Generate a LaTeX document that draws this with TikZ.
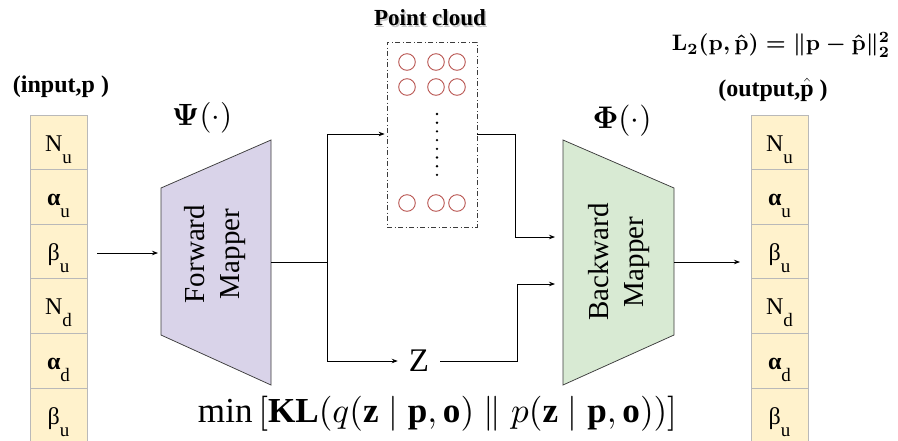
\documentclass[tikz,border=0pt]{standalone}
\usepackage{amsmath,bm}
\usepackage{fontspec}
\setmainfont{Liberation Serif}
\usetikzlibrary{arrows.meta}

\definecolor{cellfill}{RGB}{255,242,204}
\definecolor{celledge}{RGB}{185,185,185}
\definecolor{fwdfill}{RGB}{217,211,233}
\definecolor{bwdfill}{RGB}{216,234,211}
\definecolor{ptred}{RGB}{184,84,80}
\definecolor{edgegray}{RGB}{60,60,60}

\newcommand{\fsz}[2]{\fontsize{#1}{#2}\selectfont}
\newcommand{\sbx}[2]{#1\raisebox{-12pt}{\fsz{19}{19}\mdseries #2}}

\begin{document}
\begin{tikzpicture}[x=1pt,y=-1pt,
  >={Stealth[length=6pt,width=4.5pt]},
  wire/.style={draw=black,line width=0.75pt},
  cell/.style={draw=celledge,fill=cellfill,line width=0.8pt,
    minimum width=57pt,minimum height=54.6pt,inner sep=0pt,
    text height=30pt,text depth=12.6pt,font=\fsz{24}{24}},
  mapper/.style={draw=edgegray,line width=0.75pt},
  mtext/.style={rotate=90,align=center,font=\fsz{29}{35}},
  pt/.style={draw=ptred,line width=0.9pt},
  cloudbox/.style={draw=edgegray,line width=0.8pt,
    dash pattern=on 5pt off 2.5pt on 1pt off 2.5pt,
    minimum width=90pt,minimum height=185pt,inner sep=0pt},
  lab/.style={font=\fsz{24}{24}\bfseries,inner sep=0pt},
  mlab/.style={inner sep=0pt}]

\useasboundingbox (0,0) rectangle (898,440);

% input and output vectors
\foreach \t [count=\i from 0] in {{\sbx{N}{u}},{\sbx{\bfseries α}{u}},{\sbx{β}{u}},{\sbx{N}{d}},{\sbx{\bfseries α}{d}},{\sbx{β}{u}}}{
  \node[cell] (in\i) at (58.5,142.3+54.6*\i) {\t};
  \node[cell] (out\i) at (779.5,142.3+54.6*\i) {\t};
}
\node[lab] (inlab) at (61,87) {(input,$\mathbf{p}$\ )};
\node[lab] (outlab) at (773,90) {(output,$\hat{\mathbf{p}}$\ )};

% mappers
\draw[mapper,fill=fwdfill] (161,188) -- (271,140) -- (271,385) -- (161,335) -- cycle;
\draw[mapper,fill=bwdfill] (563,140) -- (674,188) -- (674,335) -- (563,385) -- cycle;
\node[mtext] (fwd) at (215,254) {Forward\\Mapper};
\node[mtext] (bwd) at (619,262) {Backward\\Mapper};
\node[mlab] (psi) at (202,118) {\resizebox{60pt}{!}{$\boldsymbol{\Psi}(\cdot)$}};
\node[mlab] (phi) at (622,121) {\resizebox{59pt}{!}{$\boldsymbol{\Phi}(\cdot)$}};

\coordinate (inStart) at (97,253);
\coordinate (fwdIn) at (158,253);
\coordinate (fwdOut) at (271,262);
\coordinate (split) at (327,262);
\coordinate (splitTop) at (327,134);
\coordinate (splitBot) at (327,361);
\coordinate (bwdIn1) at (555,237);
\coordinate (bwdIn2) at (555,284);
\coordinate (bwdOut) at (674,262);
\coordinate (outEnd) at (740,262);

% point cloud
\node[cloudbox] (pc) at (432,134.5) {};
\node[font=\fsz{23}{23}\bfseries,text=black!35,opacity=0.6] (pcshadow) at (431.5,19.5) {Point cloud};
\node[font=\fsz{23}{23}\bfseries] (pctitle) at (430,18) {Point cloud};
\foreach \y in {62,87,203}{
  \foreach \x in {407,436,457}{
    \draw[pt] (\x,\y) circle (8.3);
  }
}
\foreach \k in {0,...,7}{
  \fill (437,114+8.7*\k) circle (1.3);
}

% latent variable
\node[font=\fsz{33}{33},inner xsep=11pt,inner ysep=0pt] (z) at (419,361) {Z};

% connectors
\draw[wire,->] (inStart) -- (fwdIn);
\draw[wire] (fwdOut) -- (split);
\draw[wire] (splitTop) -- (splitBot);
\draw[wire,->,shorten >=2pt] (splitTop) -- (pc.west |- splitTop);
\draw[wire,->] (splitBot) -- (z.west);
\draw[wire] (pc.east |- splitTop) -- (515,134) -- (515,237);
\draw[wire,->] (515,237) -- (bwdIn1);
\draw[wire] (z.east) -- (517,361) -- (517,284);
\draw[wire,->] (517,284) -- (bwdIn2);
\draw[wire,->] (bwdOut) -- (outEnd);

% objectives
\node[inner sep=0pt] (l2) at (781,45) {\resizebox{218pt}{!}{\boldmath$\mathbf{L_2}(\mathbf{p},\hat{\mathbf{p}}) = \|\mathbf{p}-\hat{\mathbf{p}}\|_2^2$}};
\node[inner sep=0pt] (kl) at (437.5,414) {\resizebox{479pt}{!}{$\min\left[\mathbf{KL}(q(\mathbf{z}\mid\mathbf{p},\mathbf{o})\parallel p(\mathbf{z}\mid\mathbf{p},\mathbf{o}))\right]$}};
\end{tikzpicture}
\end{document}
